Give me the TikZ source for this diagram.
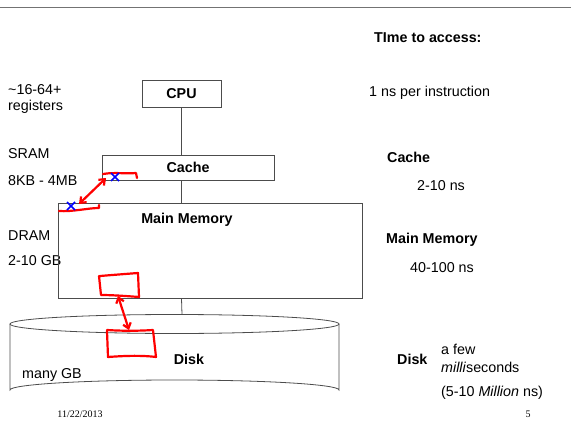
\documentclass[tikz,border=0pt]{standalone}
\usepackage{fontspec}
\setmainfont{Liberation Sans}
\newfontfamily\timesf{Liberation Serif}
\usetikzlibrary{arrows.meta}
\begin{document}
\begin{tikzpicture}[x=1pt,y=-1pt,
  txt/.style={inner sep=0pt,anchor=west,font=\fontsize{14.3}{17}\selectfont},
  btxt/.style={txt,font=\fontsize{14.3}{17}\selectfont\bfseries},
  box/.style={draw=black!70,line width=0.8pt,inner sep=0pt},
  conn/.style={draw=black!70,line width=0.8pt},
  pen/.style={draw=red,line width=2.2pt,line cap=round,line join=round},
  penarrow/.style={pen,{Straight Barb[length=5pt,width=8pt]}-{Straight Barb[length=5pt,width=8pt]}},
  xmark/.style={draw=blue,line width=1.6pt}]
\useasboundingbox (0,0) rectangle (571,436);
% top rule
\draw[black!55,line width=1pt] (0,8) -- (571,8);
% headings
\node[btxt] (head) at (374,38) {TIme to access:};
% left labels
\node[txt] (reg1) at (8,90) {\textasciitilde16-64+};
\node[txt] (reg2) at (8,107) {registers};
\node[txt] (sram) at (8,154) {SRAM};
\node[txt] (sramsz) at (8,181) {8KB - 4MB};
\node[txt] (dram) at (8,236) {DRAM};
\node[txt] (dramsz) at (8,261) {2-10 GB};
% right labels
\node[txt] (t1) at (369,93) {1 ns per instruction};
\node[btxt] (tc) at (387,157) {Cache};
\node[txt] (tc2) at (417,186) {2-10 ns};
\node[btxt] (tm) at (386,240) {Main Memory};
\node[txt] (tm2) at (410,268) {40-100 ns};
\node[btxt] (td) at (397,359) {Disk};
\node[txt] (td1) at (441,349) {a few};
\node[txt] (td2) at (441,367) {\textit{milli}seconds};
\node[txt] (td3) at (441,393) {(5-10 \textit{Million} ns)};
% boxes
\node[box,minimum width=79pt,minimum height=27pt] (cpu) at (181.5,93.5) {};
\node[btxt,anchor=center] at (cpu.center) {CPU};
\node[box,minimum width=172pt,minimum height=25pt] (cache) at (188,167.5) {};
\node[btxt,anchor=center] at (cache.center) {Cache};
\node[box,minimum width=304pt,minimum height=95pt] (mm) at (210,250.5) {};
\node[btxt,anchor=center] at (187,220) {Main Memory};
% disk cylinder
\draw[black!70,line width=0.8pt] (10,324) -- (10,390) arc[start angle=180,end angle=360,x radius=164.5,y radius=10] -- (339,324);
\draw[black!70,line width=0.8pt] (174.5,324) ellipse[x radius=164.5,y radius=9.5];
\coordinate (disktop) at (182,314.5);
\node[btxt,anchor=center] (disk) at (189,359) {Disk};
\node[txt] (many) at (22,375) {many GB};
% connectors
\draw[conn] (cpu.south) -- (cache.north -| cpu.south);
\draw[conn] (cache.south -| cpu.south) -- (mm.north -| cpu.south);
\draw[conn] (mm.south -| cpu.south) -- (disktop);
% footer
\node[inner sep=0pt,font=\timesf\fontsize{10}{12}\selectfont] (date) at (80,414) {11/22/2013};
\node[inner sep=0pt,font=\timesf\fontsize{10}{12}\selectfont] (page) at (528,414) {5};
% red annotations
\draw[pen] (103,174) .. controls (115,172) and (125,174) .. (136,173) -- (137,178);
\draw[pen] (59,211) .. controls (72,212) and (88,208) .. (99,208) -- (99,205);
\coordinate (a1) at (79,204);
\coordinate (a2) at (106,178);
\draw[penarrow] (a1) -- (a2);
\draw[xmark] (111,173) -- (119,181) (119,173) -- (111,181);
\draw[xmark] (67,202) -- (75,210) (75,202) -- (67,210);
\draw[pen] (100,276) .. controls (112,275) and (125,274) .. (138,273) -- (139,297) .. controls (126,296) and (112,295) .. (101,295) -- (99,276);
\draw[pen] (107,330) .. controls (122,331) and (138,331) .. (153,330) -- (156,357) .. controls (140,355) and (122,356) .. (108,357) -- (107,331);
\coordinate (b1) at (118,296);
\coordinate (b2) at (129,330);
\draw[penarrow] (b1) -- (b2);
\end{tikzpicture}
\end{document}
